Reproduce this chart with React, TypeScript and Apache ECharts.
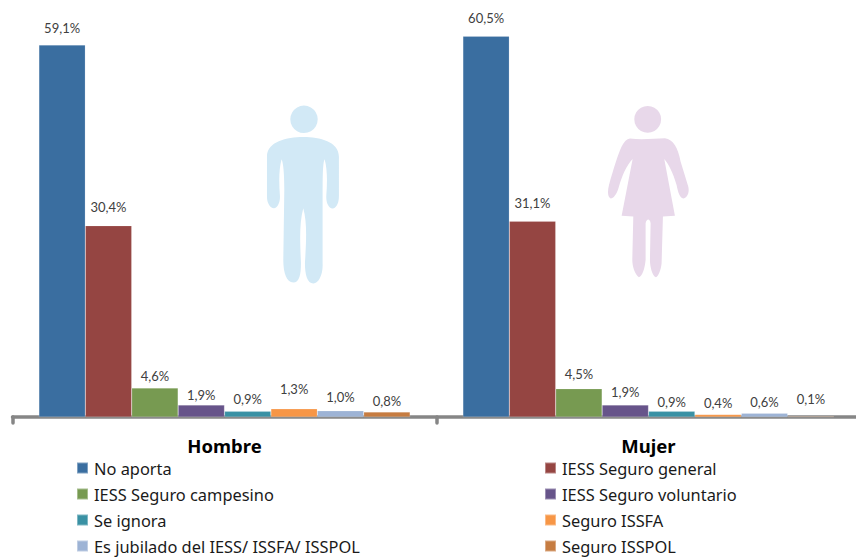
import React, { useEffect, useRef } from "react";
import * as echarts from "echarts";

const categories = ["Hombre", "Mujer"];
const noAporta = [59.1, 60.5];
const seguroGeneral = [30.4, 31.1];
const seguroCampesino = [4.6, 4.5];
const seguroVoluntario = [1.9, 1.9];
const seIgnora = [0.9, 0.9];
const seguroIssfa = [1.3, 0.4];
const jubilado = [1.0, 0.6];
const seguroIsspol = [0.8, 0.1];

const seriesTable: [string, number[], string, number[]][] = [
  ["No aporta", noAporta, "#3A6EA0", [11, 11.5]],
  ["IESS Seguro general", seguroGeneral, "#954542", [12, 11.5]],
  ["IESS Seguro campesino", seguroCampesino, "#779A51", [5.5, 8]],
  ["IESS Seguro voluntario", seguroVoluntario, "#67548A", [3.5, 6.5]],
  ["Se ignora", seIgnora, "#3A91A4", [6, 3]],
  ["Seguro ISSFA", seguroIssfa, "#F79646", [13, 4.5]],
  ["Es jubilado del IESS/ ISSFA/ ISSPOL", jubilado, "#9DB3D5", [7, 4.5]],
  ["Seguro ISSPOL", seguroIsspol, "#C67C41", [4.5, 11]],
];

const legendLeft = [seriesTable[0][0], seriesTable[2][0], seriesTable[4][0], seriesTable[6][0]];
const legendRight = [seriesTable[1][0], seriesTable[3][0], seriesTable[5][0], seriesTable[7][0]];

const manBody =
  "M160 141 C210 141 267 155 267 200 L267 320 C267 345 255 357 248 356 C236 355 229 340 229 320 C232 280 233 240 224 208 C220 215 218 240 218 300 L218 520 C220 555 205 582 190 581 C172 580 165 555 165 520 C169 450 172 400 160 355 C148 400 150 450 153 520 C153 555 148 578 130 578 C110 578 100 550 100 510 L103 300 C103 250 100 220 95 208 C86 240 87 280 90 320 C90 340 82 355 72 355 C60 355 51 340 51 320 L51 200 C51 155 110 141 160 141 Z";
const womanBody =
  "M105 146 C140 150 180 146 210 145 C235 148 250 175 257 215 L280 290 C285 310 275 326 265 326 C255 322 250 310 245 285 C235 250 220 220 208 207 L240 378 L204 380 L200 520 C198 540 190 560 183 562 C172 560 165 530 165 510 L167 400 C165 385 155 385 152 400 L152 510 C150 535 142 560 132 562 C120 555 112 530 112 510 L115 380 L80 378 L113 207 C95 225 80 260 72 290 C65 315 55 326 47 326 C38 322 37 305 42 285 C55 240 70 190 80 170 C88 155 95 147 105 146 Z";

echarts.graphic.registerShape("manShape", (echarts.graphic as any).extendPath(manBody, {}));
echarts.graphic.registerShape("womanShape", (echarts.graphic as any).extendPath(womanBody, {}));

const legendBase = {
  orient: "vertical" as const,
  top: 460,
  height: 200,
  padding: 0,
  icon: "rect",
  itemWidth: 11,
  itemHeight: 11,
  itemGap: 10,
  selectedMode: false,
  textStyle: { fontFamily: "Noto Sans", fontSize: 16.4, color: "#1a1a1a", padding: [0, 0, 0, 1] },
};

export default function App() {
  const ref = useRef<HTMLDivElement>(null);
  useEffect(() => {
    document.body.style.margin = "0";
    const chart = echarts.init(ref.current!, null, { renderer: "svg" });
    chart.setOption({
      animation: false,
      backgroundColor: "#ffffff",
      grid: { left: 12.5, top: 0, width: 848, height: 417, containLabel: false },
      xAxis: {
        type: "category",
        data: categories,
        offset: 1.5,
        axisLine: { lineStyle: { color: "#868686", width: 3.5, cap: "round" } },
        axisTick: { show: true, length: 6, lineStyle: { color: "#868686", width: 3.5, cap: "round" } },
        axisLabel: {
          margin: 17,
          fontFamily: "Noto Sans",
          fontWeight: "bold",
          fontSize: 18.5,
          color: "#000000",
        },
      },
      yAxis: { type: "value", min: 0, max: 66.25, show: false },
      legend: [
        { ...legendBase, left: 76, data: legendLeft },
        { ...legendBase, left: 544, data: legendRight },
      ],
      series: seriesTable.map(([name, values, color, dist]) => ({
        name,
        type: "bar",
        barWidth: 46.4,
        barGap: 0,
        itemStyle: { color, borderColor: "rgba(255,255,255,0.35)", borderWidth: 0.5 },
        label: {
          show: true,
          position: "top",
          fontFamily: "Lato",
          fontSize: 13,
          color: "#404040",
          formatter: (p: any) => p.value.toFixed(1).replace(".", ",") + "%",
        },
        data: values.map((v, i) => ({ value: v, label: { distance: dist[i] } })),
      })),
      graphic: [
        { type: "circle", shape: { cx: 304, cy: 119.3, r: 13.7 }, style: { fill: "#D2E9F6" } },
        { type: "manShape", x: 250, y: 90, scaleX: 1 / 3, scaleY: 1 / 3, style: { fill: "#D2E9F6" } },
        { type: "circle", shape: { cx: 647.7, cy: 119.3, r: 13.4 }, style: { fill: "#E8D8EA" } },
        { type: "womanShape", x: 595, y: 90, scaleX: 1 / 3, scaleY: 1 / 3, style: { fill: "#E8D8EA" } },
      ],
    });
    return () => chart.dispose();
  }, []);
  return (
    <div style={{ width: 856, height: 558, overflow: "hidden" }}>
      <div ref={ref} style={{ width: 880, height: 700 }} />
    </div>
  );
}
